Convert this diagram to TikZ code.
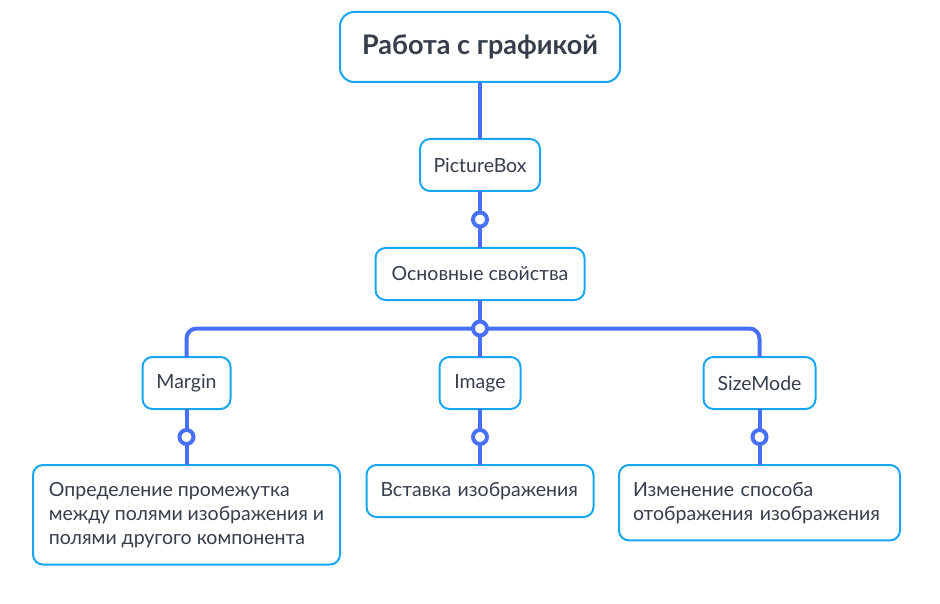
\documentclass[tikz,border=0pt]{standalone}
\usepackage{fontspec}
\setmainfont{Lato}
\usepackage{xcolor}
\usepackage{tikz}
\usetikzlibrary{positioning}
\definecolor{linkblue}{RGB}{72,112,246}
\definecolor{boxblue}{RGB}{24,166,242}
\definecolor{textgray}{RGB}{55,62,75}
\tikzset{link/.style = {draw=linkblue, line width=4pt}}

\begin{document}
\begin{tikzpicture}[x=1pt,y=1pt,node distance=57pt,
  main node/.style={rectangle,draw=boxblue,line width=2pt,rounded corners=10pt,fill=white,text=textgray,font=\fontsize{19.5}{24}\selectfont,minimum height=52pt,inner xsep=0pt,outer sep=0pt},
  leaf node/.style={main node,align=left,inner xsep=14pt,inner ysep=17pt},
  dot/.style={circle,draw=linkblue,line width=4pt,fill=white,minimum size=14pt,inner sep=0pt}]
\useasboundingbox (0,0) rectangle (940,-604);
\node[main node,minimum width=280pt,minimum height=70pt,rounded corners=14pt,font=\fontsize{27}{30}\selectfont\bfseries] (1) at (480,-47) {Работа с графикой};
\node[main node,minimum width=120pt] (2) [below=of 1] {PictureBox};
\node[main node,minimum width=209pt] (3) [below=of 2] {Основные свойства};
\node[main node,minimum width=81pt] (5) [below=of 3] {Image};
\node[main node,minimum width=88pt] (4) [left=209pt of 5] {Margin};
\node[main node,minimum width=112pt] (6) [right=183pt of 5] {SizeMode};
\node[leaf node,minimum width=307pt] (7) [below=56pt of 4] {Определение промежутка\\между полями изображения и\\полями другого компонента};
\node[leaf node,text width=199pt] (8) [below=56pt of 5] {Вставка изображения};
\node[leaf node,text width=253pt] (9) [below=56pt of 6] {Изменение способа\\отображения изображения};
% links
\path (3) -- (5) coordinate[midway] (hub);
\draw[link,rounded corners=10pt] (4.north) |- (hub) -| (6.north);
\draw[link] (1) -- (2);
\draw[link] (2) -- node[dot] (d1) {} (3);
\draw[link] (3) -- (5);
\node[dot] (d2) at (hub) {};
\draw[link] (4) -- node[dot] (d3) {} (7);
\draw[link] (5) -- node[dot] (d4) {} (8);
\draw[link] (6) -- node[dot] (d5) {} (9);
\end{tikzpicture}
\end{document}
